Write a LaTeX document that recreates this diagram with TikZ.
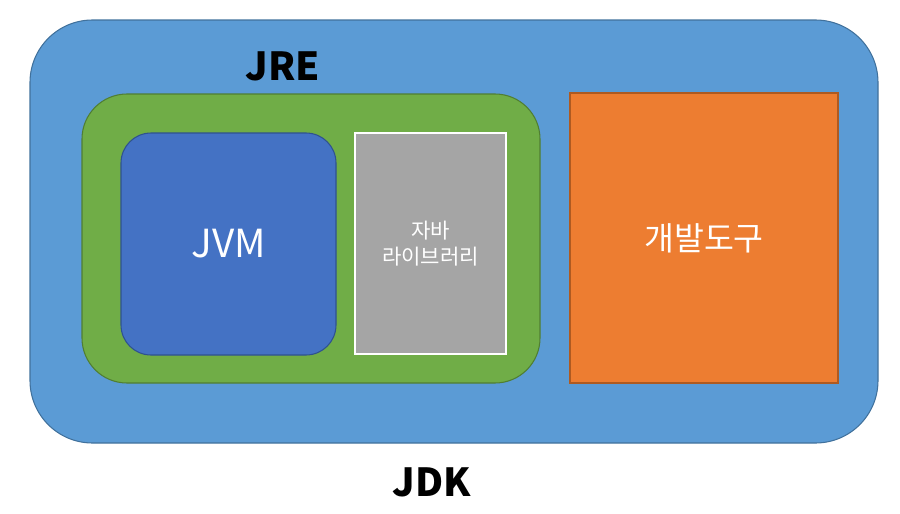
\documentclass[tikz,border=0pt]{standalone}
\usepackage{fontspec}
\setmainfont{Noto Sans CJK KR}
\usetikzlibrary{positioning}
\definecolor{jdkblue}{HTML}{5B9BD5}
\definecolor{jdkline}{HTML}{41719C}
\definecolor{jregreen}{HTML}{70AD47}
\definecolor{jreline}{HTML}{507E32}
\definecolor{jvmblue}{HTML}{4472C4}
\definecolor{jvmline}{HTML}{2F528F}
\definecolor{libgray}{HTML}{A5A5A5}
\definecolor{tooloran}{HTML}{ED7D31}
\definecolor{toolline}{HTML}{AE5A21}
\tikzset{
  panel/.style={draw, line width=0.6pt, inner sep=0pt, text=white},
  title/.style={font=\bfseries\fontsize{22}{26}\selectfont, text=black}
}

\begin{document}
\begin{tikzpicture}[x=0.02cm, y=-0.02cm]
    \useasboundingbox (0,0) rectangle (900,514);
    \node[panel, fill=jdkblue, draw=jdkline, rounded corners=1.25cm,
          minimum width=848*0.02cm, minimum height=423*0.02cm] (jdk) at (454,231.5) {};
    \node[panel, fill=jregreen, draw=jreline, rounded corners=0.9cm,
          minimum width=458*0.02cm, minimum height=289*0.02cm] (jre) at (311,238.5) {};
    \node[panel, fill=jvmblue, draw=jvmline, rounded corners=0.6cm,
          minimum width=215*0.02cm, minimum height=222*0.02cm,
          font=\fontsize{22}{26}\selectfont] (jvm) at (228.5,244) {JVM};
    \node[panel, fill=libgray, draw=white, line width=1pt,
          minimum width=151*0.02cm, minimum height=221*0.02cm,
          align=center, font=\fontsize{12}{15}\selectfont] (lib) at (430.5,243.5) {자바\\라이브러리};
    \node[panel, fill=tooloran, draw=toolline,
          minimum width=268*0.02cm, minimum height=290*0.02cm,
          font=\fontsize{18.5}{22}\selectfont] (tool) at (704,238) {개발도구};
    \node[title] (jrelabel) at (283,66) {JRE};
    \node[title] (jdklabel) at (432,482) {JDK};
\end{tikzpicture}
\end{document}
